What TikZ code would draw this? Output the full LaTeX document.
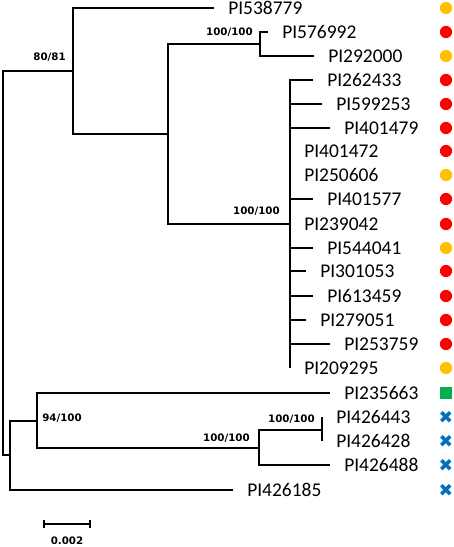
\documentclass[tikz,border=0pt]{standalone}
\usepackage{fontspec}
\setmainfont{Carlito}
\newfontfamily\bootfont{DejaVu Sans}
\usetikzlibrary{arrows.meta,positioning}

\definecolor{accred}{HTML}{FF0000}
\definecolor{accgold}{HTML}{FFC000}
\definecolor{accgreen}{HTML}{00B050}
\definecolor{accblue}{HTML}{0070C0}

\tikzset{
  branch/.style={line width=1.3pt},
  taxon/.style={inner sep=0pt, font=\fontsize{14.6}{16}\selectfont},
  support/.style={inner sep=0pt, font=\bootfont\bfseries\fontsize{7.7}{9}\selectfont},
  dotred/.style={circle, fill=accred, inner sep=0pt, minimum size=9.2pt, node contents={}},
  dotgold/.style={circle, fill=accgold, inner sep=0pt, minimum size=9.2pt, node contents={}},
  boxgreen/.style={rectangle, fill=accgreen, inner sep=0pt, minimum size=8.5pt, node contents={}},
  crossblue/.style={inner sep=0pt, text=accblue, font=\bootfont\fontsize{13}{13}\selectfont, node contents={✖}}
}

\begin{document}
\begin{tikzpicture}[x=0.75pt,y=-0.75pt,>=Stealth]
  \useasboundingbox (0,0) rectangle (454,547);
  % internal nodes
  \coordinate (root) at (3,263);
  \coordinate (A) at (73,71);
  \coordinate (B) at (168,134);
  \coordinate (C) at (260,44);
  \coordinate (D) at (290,224);
  \coordinate (E) at (10,455);
  \coordinate (F) at (37,421);
  \coordinate (G) at (259,448);
  \coordinate (H) at (322,430);
  % tips: accession / branch end x / y / marker
  \foreach \id/\tx/\ty/\sym in {538779/214/8/dotgold, 576992/268/32/dotred,
      292000/314/56/dotgold, 262433/313/80/dotred, 599253/322/104/dotred,
      401479/330/128/dotred, 401472/290/151/dotred, 250606/290/175/dotgold,
      401577/313/199/dotred, 239042/290/224/dotred, 544041/313/248/dotgold,
      301053/306/271/dotred, 613459/313/296/dotred, 279051/306/320/dotred,
      253759/330/344/dotred, 209295/290/368/dotgold, 235663/330/393/boxgreen,
      426443/322/417/crossblue, 426428/322/441/crossblue,
      426488/330/465/crossblue, 426185/233/490/crossblue}{
    \coordinate (e\id) at (\tx,\ty);
    \node[taxon, right=10.5pt of e\id] (t\id) {PI\id};
    \node[name=s\id, at={(446,\ty)}, \sym];
  }
  % branches
  \draw[branch] (root) |- (A);
  \draw[branch] (root) |- (E);
  \draw[branch] (A) |- (e538779);
  \draw[branch] (A) |- (B);
  \draw[branch] (B) |- (C);
  \draw[branch] (B) |- (D);
  \draw[branch] (C) |- (e576992);
  \draw[branch] (C) |- (e292000);
  \foreach \id in {262433,599253,401479,401472,250606,401577,239042,
      544041,301053,613459,279051,253759,209295}
    \draw[branch] (D) |- (e\id);
  \draw[branch] (E) |- (F);
  \draw[branch] (E) |- (e426185);
  \draw[branch] (F) |- (e235663);
  \draw[branch] (F) |- (G);
  \draw[branch] (G) |- (H);
  \draw[branch] (G) |- (e426488);
  \draw[branch] (H) |- (e426443);
  \draw[branch] (H) |- (e426428);
  % bootstrap support
  \node[support, anchor=east] (bA) at (66,57) {80/81};
  \node[support, anchor=east] (bC) at (253,32) {100/100};
  \node[support, anchor=east] (bD) at (280,211) {100/100};
  \node[support, anchor=west] (bF) at (42,418) {94/100};
  \node[support, anchor=east] (bG) at (250,438) {100/100};
  \node[support, anchor=east] (bH) at (315,419) {100/100};
  % scale bar
  \coordinate (sb1) at (43,524);
  \coordinate (sb2) at (91,524);
  \draw[branch,{Bar[width=6pt]}-{Bar[width=6pt]}] (sb1) -- (sb2);
  \node[support] (sblab) at (67,541) {0.002};
\end{tikzpicture}
\end{document}
